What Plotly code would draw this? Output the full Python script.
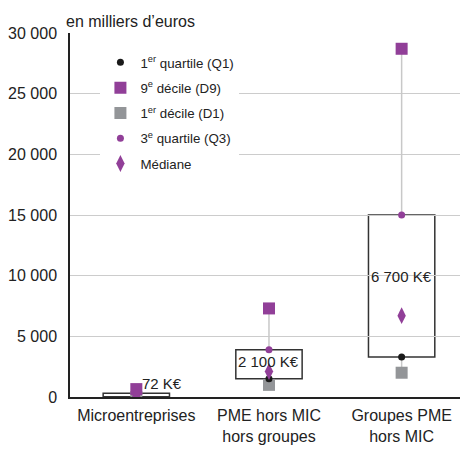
import plotly.graph_objects as go

categories = ["Microentreprises", "PME hors MIC<br>hors groupes", "Groupes PME<br>hors MIC"]
d1 = [0, 1000, 2000]
q1 = [30, 1500, 3300]
median = [72, 2100, 6700]
q3 = [300, 3900, 15000]
d9 = [650, 7300, 28700]
median_labels = ["72 K€", "2 100 K€", "6 700 K€"]
y_ticks = [0, 5000, 10000, 15000, 20000, 25000, 30000]

PURPLE = "#913f98"
GRAY = "#939598"
BLACK = "#1a1a1a"
FONT = "Liberation Sans, Arial, sans-serif"
xs = list(range(len(categories)))
half = 0.25

fig = go.Figure()

# whiskers
wx, wy = [], []
for i in xs:
    wx += [i, i, None, i, i, None]
    wy += [d9[i], q3[i], None, q1[i], d1[i], None]
fig.add_trace(go.Scatter(x=wx, y=wy, mode="lines", line=dict(color="#c8c8c8", width=1.5),
                         showlegend=False, hoverinfo="skip"))

# boxes
for i in xs:
    fig.add_shape(type="rect", xref="x", yref="y", x0=i - half, x1=i + half, y0=q1[i], y1=q3[i],
                  line=dict(color="#333333", width=1.5), fillcolor="white", layer="below")

fig.add_trace(go.Scatter(x=xs, y=d1, mode="markers", name="1<sup>er</sup> décile (D1)", legendrank=3,
                         legendgroup="d1", marker=dict(symbol="square", size=12, color=GRAY)))
fig.add_trace(go.Scatter(x=xs, y=d9, mode="markers", name="9<sup>e</sup> décile (D9)", legendrank=2,
                         legendgroup="d9", marker=dict(symbol="square", size=12, color=PURPLE)))
fig.add_trace(go.Scatter(x=xs, y=q1, mode="markers", name="1<sup>er</sup> quartile (Q1)", legendrank=1,
                         legendgroup="q1", marker=dict(symbol="circle", size=7, color=BLACK)))
fig.add_trace(go.Scatter(x=xs, y=q3, mode="markers", name="3<sup>e</sup> quartile (Q3)", legendrank=4,
                         legendgroup="q3", marker=dict(symbol="circle", size=7, color=PURPLE)))
fig.add_trace(go.Scatter(x=xs, y=median, mode="markers", name="Médiane", legendrank=5,
                         legendgroup="med", marker=dict(symbol="diamond-tall", size=12, color=PURPLE)))

# median labels
fig.add_annotation(x=xs[0], y=q3[0], text=median_labels[0], showarrow=False, xanchor="left",
                   yanchor="bottom", xshift=4, yshift=-1, font=dict(size=15, color="#222"))
for i in xs[1:]:
    fig.add_annotation(x=i, y=(q1[i] + q3[i]) / 2, text=median_labels[i], showarrow=False,
                       yshift=3 if i == 1 else 9, font=dict(size=15, color="#222"))

fig.add_annotation(xref="paper", yref="paper", x=-0.015, y=1.0, yshift=1, xanchor="left", yanchor="bottom",
                   text="en milliers d’euros", showarrow=False, font=dict(size=16, color="#222"))

fig.update_layout(
    width=460, height=443,
    margin=dict(l=62, r=8, t=25, b=54),
    paper_bgcolor="white", plot_bgcolor="white",
    font=dict(family=FONT, size=15, color="#222"),
    separators=", ",
    showlegend=True,
    legend=dict(x=0.078, y=0.961, xanchor="left", yanchor="top", bgcolor="white",
                font=dict(size=13.3, color="#222"), tracegroupgap=5, itemsizing="trace"),
    xaxis=dict(range=[-0.5, 2.44], tickvals=xs, ticktext=categories, showgrid=False,
               zeroline=False, showline=True, linecolor="#222", linewidth=1.5, ticks="",
               tickfont=dict(size=16), ticklabelstandoff=3, automargin=False),
    yaxis=dict(range=[0, 30000], tickvals=y_ticks, tickformat=",d", showgrid=True,
               gridcolor="#cccccc", gridwidth=1, zeroline=False, showline=True, linecolor="#222",
               linewidth=1.5, ticks="", tickfont=dict(size=16), ticklabelstandoff=8, automargin=False),
)

fig.write_html("out.html")
